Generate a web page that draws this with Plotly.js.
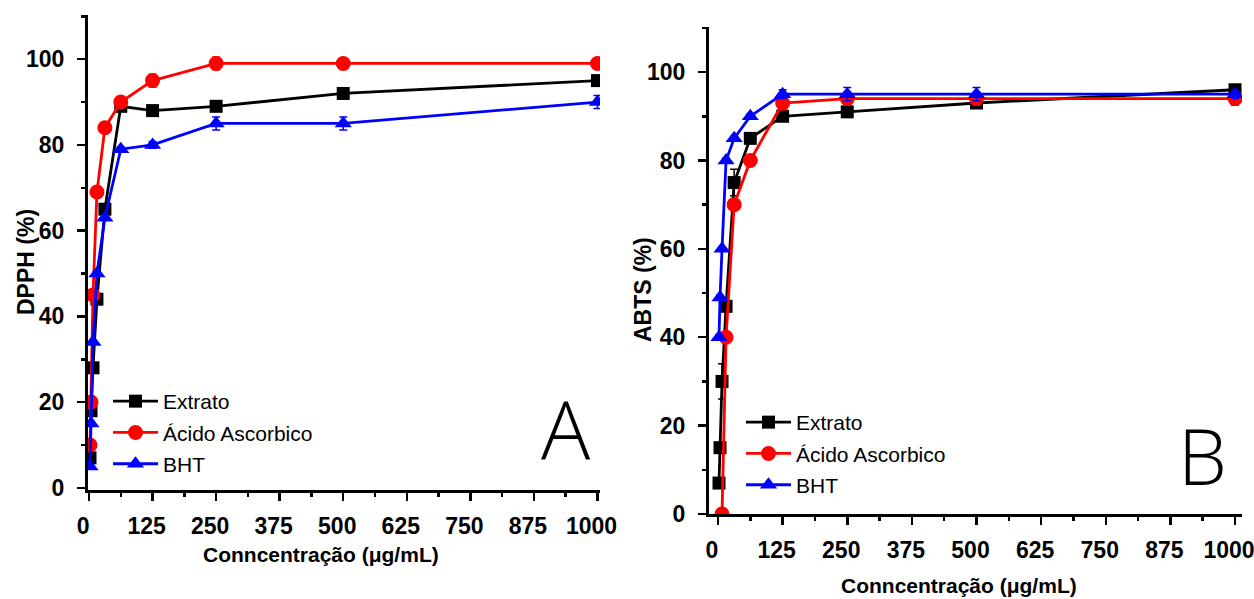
<!DOCTYPE html>
<html>
<head>
<meta charset="utf-8">
<script src="https://cdn.plot.ly/plotly-3.0.1.min.js"></script>
<style>html,body{margin:0;padding:0;background:#fff}#chart{width:1254px;height:599px}</style>
</head>
<body>
<div id="chart"></div>
<script>
// ---- data ----
const concentracao = [1.95, 3.9, 7.8, 15.6, 31.25, 62.5, 125, 250, 500, 1000];
const concAscorbicoABTS = [7.8, 15.6, 31.25, 62.5, 125, 250, 500, 1000];

const dpphExtrato   = [7, 18, 28, 44, 65, 89, 88, 89, 92, 95];
const dpphExtratoErr = [0.5, 0.5, 0.5, 0.8, 0.8, 0.6, 0.8, 0.8, 0.8, 0.8];
const dpphAscorbico = [10, 20, 45, 69, 84, 90, 95, 99, 99, 99];
const dpphAscorbicoErr = [0.5, 0.5, 0.8, 0.8, 1, 0.6, 1.5, 1.5, 0.8, 1];
const dpphBHT       = [5, 15, 34, 50, 63, 79, 80, 85, 85, 90];
const dpphBHTErr    = [0.5, 0.5, 0.5, 0.5, 0.5, 0.5, 0.8, 1.5, 1.5, 1.5];

const abtsExtrato   = [7, 15, 30, 47, 75, 85, 90, 91, 93, 96];
const abtsExtratoErr = [1, 1, 4, 1, 3, 1, 1, 0.8, 1, 1];
const abtsAscorbico = [0, 40, 70, 80, 93, 94, 94, 94];
const abtsAscorbicoErr = [0.5, 0.5, 1, 1, 1.5, 1.5, 1.5, 1.5];
const abtsBHT       = [40, 49, 60, 80, 85, 90, 95, 95, 95, 95];
const abtsBHTErr    = [0.5, 0.5, 0.5, 0.5, 0.5, 0.5, 1, 1.5, 1.5, 1];

const seriesNames = ['Extrato', 'Ácido Ascorbico', 'BHT'];
const xTickVals = [0, 125, 250, 375, 500, 625, 750, 875, 1000];
const yTickVals = [0, 20, 40, 60, 80, 100];

// ---- style ----
const W = 1254, H = 599;
const fx = p => p / W;
const fy = p => 1 - p / H;
const SANS = '"Liberation Sans", Arial, sans-serif';
const colors = ['#000000', '#ff0000', '#0000ff'];
const symbols = ['square', 'circle', 'triangle-up'];
const msize = [13, 15, 15];

function tr(x, y, err, i, xa, ya, leg, grp) {
  return {
    x: x, y: y, type: 'scatter', mode: 'lines+markers', name: seriesNames[i],
    xaxis: xa, yaxis: ya, legend: leg, legendgroup: grp, cliponaxis: true,
    line: {color: colors[i], width: 2.8},
    marker: {color: colors[i], symbol: symbols[i], size: msize[i]},
    error_y: {type: 'data', array: err, visible: true, color: colors[i], thickness: 1.5, width: 4}
  };
}

const data = [
  tr(concentracao, dpphExtrato, dpphExtratoErr, 0, 'x', 'y', 'legend', 'a0'),
  tr(concentracao, dpphAscorbico, dpphAscorbicoErr, 1, 'x', 'y', 'legend', 'a1'),
  tr(concentracao, dpphBHT, dpphBHTErr, 2, 'x', 'y', 'legend', 'a2'),
  tr(concentracao, abtsExtrato, abtsExtratoErr, 0, 'x2', 'y2', 'legend2', 'b0'),
  tr(concAscorbicoABTS, abtsAscorbico, abtsAscorbicoErr, 1, 'x2', 'y2', 'legend2', 'b1'),
  tr(concentracao, abtsBHT, abtsBHTErr, 2, 'x2', 'y2', 'legend2', 'b2')
];

const tickFont = {family: SANS, size: 23, color: '#000', weight: 'bold'};
function xAx(dom, rng, anchor) {
  return {domain: dom, range: rng, anchor: anchor, tickmode: 'array', tickvals: xTickVals,
    ticks: 'outside', ticklen: 8, tickwidth: 2.5, tickcolor: '#000',
    minor: {tickmode: 'linear', tick0: 0, dtick: 62.5, ticks: 'outside', ticklen: 4, tickwidth: 2.5, tickcolor: '#000'},
    showline: true, linewidth: 3, linecolor: '#000', showgrid: false, zeroline: false,
    tickfont: tickFont, ticklabelstandoff: 5, ticklabelshift: -6, ticklabeloverflow: 'allow', fixedrange: true};
}
function yAx(dom, rng, anchor) {
  return {domain: dom, range: rng, anchor: anchor, tickmode: 'array', tickvals: yTickVals,
    ticks: 'outside', ticklen: 8, tickwidth: 2.5, tickcolor: '#000',
    minor: {tickmode: 'linear', tick0: 0, dtick: 10, ticks: 'outside', ticklen: 4, tickwidth: 2.5, tickcolor: '#000'},
    showline: true, linewidth: 3, linecolor: '#000', showgrid: false, zeroline: false,
    tickfont: tickFont, ticklabelstandoff: 8, ticklabeloverflow: 'allow', fixedrange: true};
}
function mirrorX(base, over, anchor) {
  return Object.assign({}, base, {overlaying: over, anchor: anchor, side: 'top', ticks: 'inside',
    minor: Object.assign({}, base.minor, {ticks: 'inside'}), showticklabels: false});
}
function mirrorY(base, over, anchor) {
  return Object.assign({}, base, {overlaying: over, anchor: anchor, side: 'right', ticks: 'inside',
    minor: Object.assign({}, base.minor, {ticks: 'inside'}), showticklabels: false});
}

const xa1 = xAx([fx(88), fx(600)], [-2, 1005], 'y');
const ya1 = yAx([fy(490), fy(15)], [-0.5, 110.3], 'x');
const xa2 = xAx([fx(709), fx(1242)], [-17.4, 1013.5], 'y2');
const ya2 = yAx([fy(514), fy(27)], [0, 110.2], 'x2');

const legendBase = {font: {family: SANS, size: 21, color: '#000'}, bgcolor: 'rgba(0,0,0,0)',
  borderwidth: 0, itemwidth: 45, xanchor: 'left', yanchor: 'top', tracegroupgap: 1};

const layout = {
  width: W, height: H, margin: {l: 0, r: 0, t: 0, b: 0},
  paper_bgcolor: '#fff', plot_bgcolor: '#fff', showlegend: true,
  xaxis: xa1, yaxis: ya1, xaxis2: xa2, yaxis2: ya2,
  xaxis3: mirrorX(xa1, 'x', 'y'), yaxis3: mirrorY(ya1, 'y', 'x'),
  xaxis4: mirrorX(xa2, 'x2', 'y2'), yaxis4: mirrorY(ya2, 'y2', 'x2'),
  legend: Object.assign({}, legendBase, {x: fx(108), y: fy(381)}),
  legend2: Object.assign({}, legendBase, {x: fx(741), y: fy(402)}),
  annotations: [
    {text: 'Conncentração (μg/mL)', xref: 'paper', yref: 'paper', x: fx(321), y: fy(554), showarrow: false,
     font: {family: SANS, size: 21, color: '#000', weight: 'bold'}, xanchor: 'center', yanchor: 'middle'},
    {text: 'Conncentração (μg/mL)', xref: 'paper', yref: 'paper', x: fx(959), y: fy(585), showarrow: false,
     font: {family: SANS, size: 21, color: '#000', weight: 'bold'}, xanchor: 'center', yanchor: 'middle'},
    {text: 'DPPH (%)', xref: 'paper', yref: 'paper', x: fx(26), y: fy(262), showarrow: false, textangle: -90,
     font: {family: SANS, size: 23, color: '#000', weight: 'bold'}, xanchor: 'center', yanchor: 'middle'},
    {text: 'ABTS (%)', xref: 'paper', yref: 'paper', x: fx(643), y: fy(290), showarrow: false, textangle: -90,
     font: {family: SANS, size: 23, color: '#000', weight: 'bold'}, xanchor: 'center', yanchor: 'middle'},
    {text: 'A', xref: 'paper', yref: 'paper', x: fx(566), y: fy(428), showarrow: false,
     font: {family: '"Open Sans", sans-serif', size: 82, color: '#000', weight: 300}, xanchor: 'center', yanchor: 'middle'},
    {text: 'B', xref: 'paper', yref: 'paper', x: fx(1202), y: fy(455), showarrow: false,
     font: {family: '"Open Sans", sans-serif', size: 78, color: '#000', weight: 300}, xanchor: 'center', yanchor: 'middle'}
  ]
};

Plotly.newPlot('chart', data, layout, {displayModeBar: false, staticPlot: true});
</script>
</body>
</html>
